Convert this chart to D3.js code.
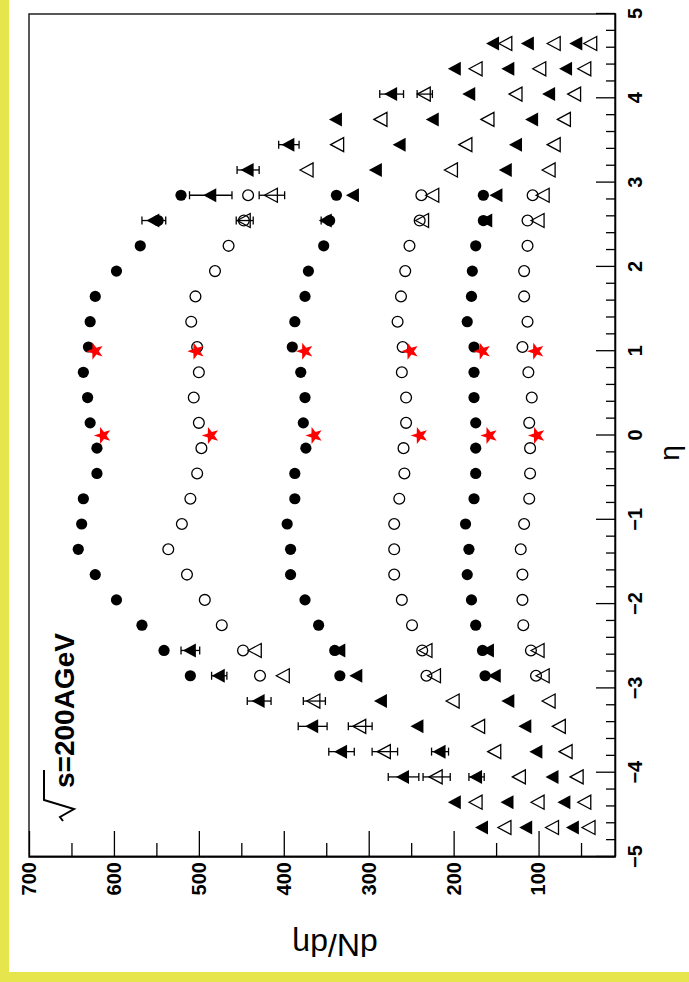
<!DOCTYPE html>
<html>
<head>
<meta charset="UTF-8" />
<style>
  body { margin: 0; background: #fff; }
  svg { display: block; }
  text { font-family: "Liberation Sans", Arial, Helvetica, sans-serif; }
</style>
</head>
<body>
<svg></svg>
<script src="https://d3js.org/d3.v7.min.js"></script>
<script>
// eta bins of the central (octagon) points
const etaCirc = [-2.85, -2.55, -2.25, -1.95, -1.65, -1.35, -1.05, -0.75, -0.45, -0.15,
                 0.15, 0.45, 0.75, 1.05, 1.35, 1.65, 1.95, 2.25, 2.55, 2.85];
// six centrality bins, alternating full / open circles
const circA = [510, 541, 567, 597, 622, 642, 638, 636, 620, 620, 628, 631, 636, 630, 628, 622, 597, 569, 548, 521];
const circB = [428, 448, 473, 493, 514, 536, 520, 510, 502, 497, 500, 506, 500, 502, 509, 504, 481, 465, 447, 442];
const circC = [334, 340, 359, 375, 392, 392, 396, 387, 387, 374, 377, 375, 380, 390, 387, 375, 371, 353, 346, 338];
const circD = [232, 237, 249, 261, 270, 270, 270, 264, 258, 259, 256, 256, 261, 260, 266, 262, 257, 252, 240, 238];
const circE = [163, 166, 174, 179, 184, 182, 186, 176, 174, 174, 174, 176, 176, 176, 184, 179, 178, 174, 165, 165];
const circF = [103, 109, 118, 119, 119, 121, 117, 111, 110, 110, 111, 108, 112, 119, 113, 117, 117, 113, 113, 107];

// forward (ring) points, triangles
const etaTri = [-4.65, -4.35, -4.05, -3.75, -3.45, -3.15, -2.85, -2.55,
                2.55, 2.85, 3.15, 3.45, 3.75, 4.05, 4.35, 4.65];
const triA = [166, 198, 259, 332, 366, 429, 476, 510, 553, 486, 442, 394, 338, 273, 198, 153];
const triB = [139, 173, 220, 281, 310, 364, 400, 433, 446, 414, 372, 336, 285, 234, 173, 138];
const triC = [114, 136, 173, 216, 242, 285, 314, 334, 350, 318, 291, 263, 224, 181, 135, 112];
const triD = [83, 100, 122, 151, 170, 200, 222, 232, 236, 224, 202, 185, 159, 126, 98, 81];
const triE = [59, 69, 83, 102, 115, 135, 151, 159, 161, 149, 138, 126, 107, 87, 67, 55];
const triF = [40, 45, 54, 67, 75, 87, 94, 100, 100, 94, 87, 81, 69, 57, 45, 38];
const errA = [0, 0, 18, 15, 17, 14, 9, 11, 14, 25, 13, 12, 0, 14, 0, 0];
const errB = [0, 0, 16, 15, 14, 13, 0, 0, 10, 15, 0, 0, 0, 9, 0, 0];
const errC = [0, 0, 9, 10, 0, 0, 0, 0, 6, 0, 0, 0, 0, 0, 0, 0];

// red stars at eta = 0 and 1
const etaStar = [0, 1];
const starVals = [[613, 622], [486, 503], [364, 375], [240, 251], [158, 166], [102, 103]];

const etaTicks = [-5, -4, -3, -2, -1, 0, 1, 2, 3, 4, 5];
const dndetaTicks = [100, 200, 300, 400, 500, 600, 700];

let width = 689, height = 982;
let svg = d3.select("svg").attr("width", width).attr("height", height);

svg.append("rect").attr("width", width).attr("height", height).attr("fill", "#fff");
svg.append("rect").attr("x", 0).attr("y", 0).attr("width", 9).attr("height", height).attr("fill", "#e6e54c");
svg.append("rect").attr("x", 0).attr("y", 972).attr("width", width).attr("height", 10).attr("fill", "#e6e54c");

// the whole plot is drawn upright, then turned a quarter turn
let W = 843, H = 586;
let g = svg.append("g").attr("transform", "translate(29,857) rotate(-90)");

let x = d3.scaleLinear().domain([-5, 5]).range([0, W]);
let y = d3.scaleLinear().domain([10, 700]).range([H, 0]);

g.append("rect").attr("width", W).attr("height", H)
  .attr("fill", "none").attr("stroke", "#222").attr("stroke-width", 1.5);

// eta axis
let minorEta = d3.range(-50, 51, 2).map(d => d / 10).filter(d => d % 1 !== 0);
g.append("g").attr("transform", `translate(0,${H})`)
  .call(d3.axisBottom(x).tickValues(minorEta).tickSize(-9).tickSizeOuter(0).tickFormat(""));
let xAxis = g.append("g").attr("transform", `translate(0,${H})`)
  .call(d3.axisBottom(x).tickValues(etaTicks).tickSize(-19).tickSizeOuter(0).tickPadding(13));
xAxis.selectAll("text").style("font-size", "20px").style("font-weight", "bold").attr("fill", "#000");

// dN/deta axis
let minorN = d3.range(50, 700, 100);
g.append("g")
  .call(d3.axisLeft(y).tickValues(minorN).tickSize(-14).tickSizeOuter(0).tickFormat(""));
let yAxis = g.append("g")
  .call(d3.axisLeft(y).tickValues(dndetaTicks).tickSize(-26).tickSizeOuter(0).tickPadding(5));
yAxis.selectAll("text").style("font-size", "20px").style("font-weight", "bold").attr("fill", "#000");

g.selectAll(".domain, .tick line").attr("stroke", "#000").attr("stroke-width", 1.3);

// titles
g.append("text").attr("x", 404).attr("y", 650).attr("text-anchor", "middle")
  .style("font-size", "28px").text("η");
g.append("text").attr("transform", "translate(-77,306) rotate(-90)")
  .attr("text-anchor", "middle").style("font-size", "32px").text("dN/dη");

// sqrt(s) label
g.append("path").attr("d", "M36,34L40,31L48,45L57,15L87,15")
  .attr("fill", "none").attr("stroke", "#000").attr("stroke-width", 2);
g.append("text").attr("x", 69).attr("y", 45)
  .style("font-size", "28px").style("font-weight", "bold").text("s=200AGeV");

let triPath = "M0,-7.5L7,5.5L-7,5.5Z";
let starPath = d3.range(10).map(i => {
  let a = -Math.PI / 2 + i * Math.PI / 5, r = i % 2 ? 3.6 : 9;
  return (i ? "L" : "M") + (r * Math.cos(a)).toFixed(2) + "," + (r * Math.sin(a)).toFixed(2);
}).join("") + "Z";

// error bars on forward points
let triSeries = [triA, triB, triC, triD, triE, triF];
let triErrs = [errA, errB, errC];
triErrs.forEach((errs, s) => {
  let pts = etaTri.map((e, i) => ({ e: e, v: triSeries[s][i], err: errs[i] })).filter(d => d.err > 0);
  let eb = g.append("g").selectAll("g").data(pts).join("g")
    .attr("stroke", "#000").attr("stroke-width", 1.3);
  eb.append("line").attr("x1", d => x(d.e)).attr("x2", d => x(d.e))
    .attr("y1", d => y(d.v - d.err)).attr("y2", d => y(d.v + d.err));
  eb.append("line").attr("x1", d => x(d.e) - 4).attr("x2", d => x(d.e) + 4)
    .attr("y1", d => y(d.v - d.err)).attr("y2", d => y(d.v - d.err));
  eb.append("line").attr("x1", d => x(d.e) - 4).attr("x2", d => x(d.e) + 4)
    .attr("y1", d => y(d.v + d.err)).attr("y2", d => y(d.v + d.err));
});

// circles
[circA, circB, circC, circD, circE, circF].forEach((vals, s) => {
  let full = s % 2 === 0;
  g.append("g").selectAll("circle").data(vals).join("circle")
    .attr("cx", (d, i) => x(etaCirc[i])).attr("cy", d => y(d)).attr("r", full ? 5.6 : 5.4)
    .attr("fill", full ? "#000" : "none").attr("stroke", "#000").attr("stroke-width", full ? 0 : 1.3);
});

// triangles
triSeries.forEach((vals, s) => {
  let full = s % 2 === 0;
  g.append("g").selectAll("path").data(vals).join("path")
    .attr("transform", (d, i) => `translate(${x(etaTri[i])},${y(d)})`)
    .attr("d", triPath)
    .attr("fill", full ? "#000" : "none").attr("stroke", "#000").attr("stroke-width", full ? 0 : 1.3);
});

// stars
starVals.forEach(vals => {
  g.append("g").selectAll("path").data(vals).join("path")
    .attr("transform", (d, i) => `translate(${x(etaStar[i])},${y(d)})`)
    .attr("d", starPath).attr("fill", "#ff0000");
});
</script>
</body>
</html>
